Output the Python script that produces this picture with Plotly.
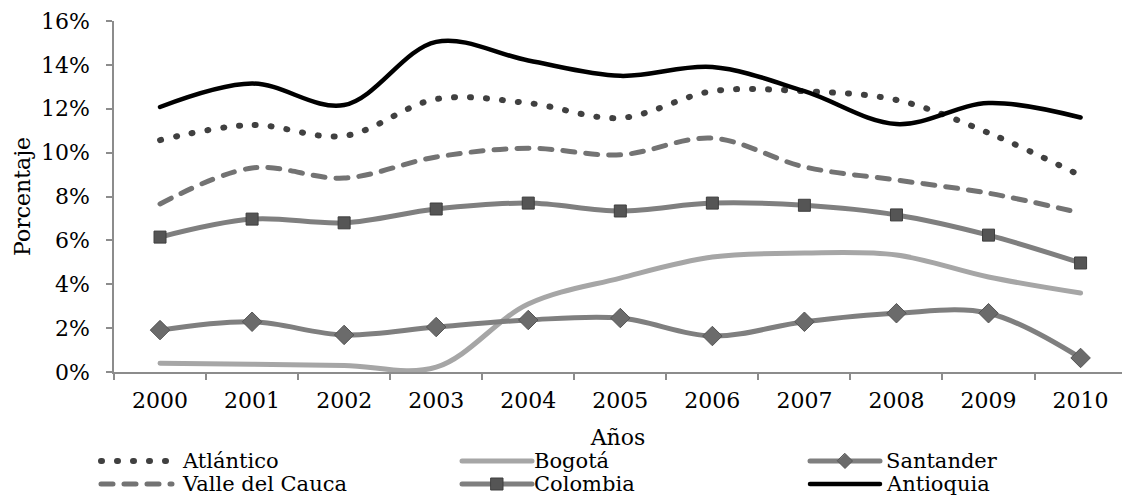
import plotly.graph_objects as go

years = ["2000", "2001", "2002", "2003", "2004", "2005", "2006", "2007", "2008", "2009", "2010"]

atlantico = [10.57, 11.26, 10.76, 12.44, 12.26, 11.58, 12.8, 12.8, 12.4, 10.9, 8.95]
bogota = [0.40, 0.35, 0.30, 0.22, 3.10, 4.28, 5.24, 5.42, 5.33, 4.33, 3.60]
santander = [1.91, 2.29, 1.69, 2.05, 2.37, 2.46, 1.64, 2.29, 2.68, 2.68, 0.64]
valle = [7.66, 9.30, 8.84, 9.80, 10.20, 9.90, 10.66, 9.35, 8.75, 8.15, 7.25]
colombia = [6.15, 6.97, 6.80, 7.43, 7.70, 7.34, 7.70, 7.60, 7.16, 6.24, 4.97]
antioquia = [12.08, 13.15, 12.17, 15.05, 14.20, 13.50, 13.90, 12.80, 11.30, 12.26, 11.60]

y_tick_vals = [0, 2, 4, 6, 8, 10, 12, 14, 16]
y_tick_text = ["0%", "2%", "4%", "6%", "8%", "10%", "12%", "14%", "16%"]

FONT = "DejaVu Serif"
SMOOTH = 1.0

L, T, R, B = 114, 21, 0, 126
W, H = 1122, 498
pw, ph = W - L - R, H - T - B


def px_x(px):
    return (px - L) / pw


def px_y(py):
    return (H - B - py) / ph


# series styles: name, values, color, width, dash, marker-symbol, legend column/row
series = [
    ("Atlántico", atlantico, "#404040", 6, "1px,15px", None, 0, 0),
    ("Valle del Cauca", valle, "#737373", 5, "12px,11px", None, 0, 1),
    ("Bogotá", bogota, "#a6a6a6", 5, "solid", None, 1, 0),
    ("Colombia", colombia, "#7f7f7f", 5, "solid", "square", 1, 1),
    ("Santander", santander, "#7f7f7f", 5, "solid", "diamond", 2, 0),
    ("Antioquia", antioquia, "#000000", 4.5, "solid", None, 2, 1),
]

marker_styles = {
    "square": dict(symbol="square", size=12, color="#555555", line=dict(color="#3f3f3f", width=1)),
    "diamond": dict(symbol="diamond", size=15, color="#6b6b6b", line=dict(color="#555555", width=1)),
}

fig = go.Figure()
for name, vals, color, width, dash, msym, col, row in series:
    fig.add_trace(go.Scatter(
        x=years, y=vals, name=name,
        mode="lines+markers" if msym else "lines",
        line=dict(color=color, width=width, dash=dash, shape="spline", smoothing=SMOOTH),
        marker=marker_styles[msym] if msym else None,
        showlegend=False,
    ))

# manual legend (three columns, two rows)
col_sample_x = [(101, 172), (462, 532), (810, 880)]
col_text_x = [180, 532, 884]
row_y = [461, 484]

shapes = []
annotations = []
for name, vals, color, width, dash, msym, col, row in series:
    x0, x1 = col_sample_x[col]
    yy = row_y[row]
    shapes.append(dict(
        type="line", xref="paper", yref="paper",
        x0=px_x(x0), x1=px_x(x1), y0=px_y(yy), y1=px_y(yy),
        line=dict(color=color, width=width, dash=dash),
    ))
    cx = (x0 + x1) / 2
    if msym == "square":
        s = 6
        shapes.append(dict(
            type="rect", xref="paper", yref="paper",
            x0=px_x(cx - s), x1=px_x(cx + s), y0=px_y(yy - s), y1=px_y(yy + s),
            fillcolor="#555555", line=dict(color="#3f3f3f", width=1),
        ))
    elif msym == "diamond":
        s = 7.5
        path = "M {},{} L {},{} L {},{} L {},{} Z".format(
            px_x(cx), px_y(yy - s), px_x(cx + s), px_y(yy),
            px_x(cx), px_y(yy + s), px_x(cx - s), px_y(yy))
        shapes.append(dict(
            type="path", xref="paper", yref="paper", path=path,
            fillcolor="#6b6b6b", line=dict(color="#555555", width=1),
        ))
    annotations.append(dict(
        text=name, xref="paper", yref="paper",
        x=px_x(col_text_x[col]), y=px_y(yy), xanchor="left", yanchor="middle",
        showarrow=False, font=dict(family=FONT, size=21, color="#000000"),
    ))

fig.update_layout(
    width=W, height=H,
    margin=dict(l=L, r=R, t=T, b=B, pad=0, autoexpand=False),
    paper_bgcolor="white", plot_bgcolor="white",
    font=dict(family=FONT, size=22, color="#000000"),
    showlegend=False,
    shapes=shapes,
    annotations=annotations,
)

fig.update_xaxes(
    type="category", range=[-0.5, 10.45], automargin=False,
    showline=True, linecolor="#8c8c8c", linewidth=1.5,
    ticks="outside", tickson="boundaries", ticklen=6, tickcolor="#8c8c8c", tickwidth=1.5,
    showgrid=False, zeroline=False,
    tickfont=dict(family=FONT, size=22, color="#000000"),
    ticklabelstandoff=8,
    title=dict(text="Años", font=dict(family=FONT, size=22, color="#000000"), standoff=17),
)
fig.update_yaxes(
    range=[0, 16], tickmode="array", tickvals=y_tick_vals, ticktext=y_tick_text,
    automargin=False,
    showline=True, linecolor="#8c8c8c", linewidth=1.5,
    ticks="outside", ticklen=6, tickcolor="#8c8c8c", tickwidth=1.5,
    showgrid=False, zeroline=False,
    tickfont=dict(family=FONT, size=22, color="#000000"),
    ticklabelstandoff=12,
    title=dict(text="Porcentaje", font=dict(family=FONT, size=22, color="#000000"), standoff=4),
)

post = """
var s = document.createElement('style');
s.innerHTML = 'html, body { margin: 0; padding: 0; overflow: hidden; } .scatterlayer path.js-line, .shapelayer path { stroke-linecap: round; }';
document.head.appendChild(s);
"""

fig.write_html("out.html", post_script=post, config={"displayModeBar": False})
